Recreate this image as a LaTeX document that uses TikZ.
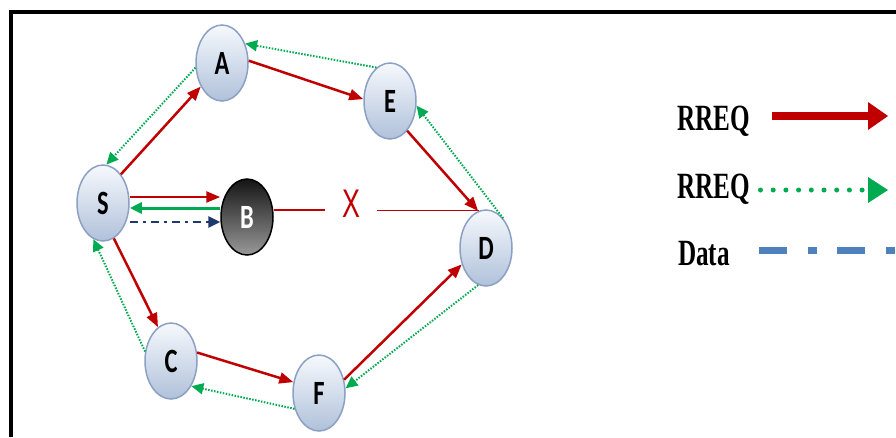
\documentclass[tikz,border=0pt]{standalone}
\usepackage{fontspec}
\setmainfont{Liberation Serif}
\newfontfamily\nodefont[FakeStretch=0.72]{Carlito}
\newfontfamily\legfont[FakeStretch=0.68]{Liberation Serif}
\newfontfamily\xfont[FakeStretch=0.67]{Liberation Sans}
\usetikzlibrary{shapes.geometric,arrows.meta}
\definecolor{rred}{RGB}{192,0,0}
\definecolor{rgreen}{RGB}{0,170,80}
\definecolor{dblue}{RGB}{31,56,110}
\definecolor{lblue}{RGB}{79,129,189}
\definecolor{nodeedge}{RGB}{140,160,195}
\definecolor{nodetop}{RGB}{246,249,253}
\definecolor{nodebot}{RGB}{176,193,218}
\tikzset{
  station/.style={ellipse, minimum width=52pt, minimum height=76pt, inner sep=0pt,
    draw=nodeedge, line width=1.5pt, top color=nodetop, bottom color=nodebot,
    font=\nodefont\bfseries\fontsize{34}{34}\selectfont},
  blackhole/.style={station, draw=black, top color=black!92, bottom color=black!40, text=white},
  rreqarrow/.style={draw=rred, line width=2.5pt, -{Triangle[length=14pt,width=11pt]}},
  rreparrow/.style={draw=rgreen, line width=2pt, dash pattern=on 1.5pt off 1.5pt,
    -{Triangle[length=12pt,width=11pt]}},
  greensolid/.style={draw=rgreen, line width=3pt, -{Triangle[length=12pt,width=11pt]}},
  dataarrow/.style={draw=dblue, line width=2.5pt, dash pattern=on 8pt off 5pt on 3pt off 5pt,
    -{Triangle[length=12pt,width=11pt]}},
  thinred/.style={draw=rred, line width=1.5pt},
  legtext/.style={anchor=base west, inner sep=0pt, font=\legfont\bfseries\fontsize{37}{37}\selectfont}
}
\begin{document}
\begin{tikzpicture}[x=1pt,y=-1pt]
\useasboundingbox (0,0) rectangle (896,437);
\fill[white] (0,0) rectangle (896,437);
% frame
\draw[line width=4pt] (11,437) -- (11,12) -- (896,12);

% nodes
\node[station] (S) at (103,203) {S};
\node[station] (A) at (222,63) {A};
\node[station] (E) at (390,101) {E};
\node[blackhole] (B) at (247,217) {B};
\node[station] (D) at (486,248) {D};
\node[station] (C) at (171,361) {C};
\node[station] (F) at (319,393) {F};
\node[text=rred, font=\xfont\fontsize{40}{40}\selectfont, inner xsep=17pt, inner ysep=0pt] (X) at (351,204) {X};

% red RREQ arrows
\draw[rreqarrow] (S.58) -- (A.228);
\draw[rreqarrow] (A.5) -- (E.176);
\draw[rreqarrow] (E.300) -- (D.102);
\draw[rreqarrow] ([yshift=6pt]S.east) -- ([yshift=20pt]B.west);
\draw[rreqarrow] (S.287) -- (C.111);
\draw[rreqarrow] (C.18) -- (F.157);
\draw[rreqarrow] (F.28) -- (D.214);

% broken link B - X - D
\draw[thinred] ([yshift=7pt]B.east) -- ([yshift=7pt]B.east -| X.west);
\draw[thinred] (D.100 -| X.east) -- (D.100);

% green replies
\draw[rreparrow] (E.112) -- (A.40);
\draw[rreparrow] (A.190) -- (S.85);
\draw[rreparrow] (D.60) -- (E.350);
\draw[rreparrow] (D.258) -- (F.10);
\draw[rreparrow] (F.213) -- (C.309);
\draw[rreparrow] (C.160) -- (S.255);
\draw[greensolid] ([yshift=9pt]B.west) -- ([yshift=-5pt]S.east);

% data
\draw[dataarrow] ([yshift=-19pt]S.east) -- ([yshift=-5pt]B.west);

% legend
\node[legtext] (L1) at (677,130) {RREQ};
\node[legtext] (L2) at (677,198) {RREQ};
\node[legtext] (L3) at (678,265) {Data};
\coordinate (L1s) at (772,116);
\coordinate (L1e) at (888,116);
\coordinate (L2s) at (760.5,190);
\coordinate (L2e) at (888,190);
\coordinate (L3s) at (759,250);
\coordinate (L3e) at (896,250);
\draw[draw=rred, line width=8pt, -{Triangle[length=20pt,width=28pt,line width=0pt]}] (L1s) -- (L1e);
\draw[draw=rgreen, line width=5pt, line cap=round, dash pattern=on 0pt off 12.7pt,
      -{Triangle[length=20pt,width=26pt,line width=0pt,round=false]}] (L2s) -- (L2e);
\draw[draw=lblue, line width=7pt, dash pattern=on 28pt off 21pt on 9pt off 20pt] (L3s) -- (L3e);
\end{tikzpicture}
\end{document}
